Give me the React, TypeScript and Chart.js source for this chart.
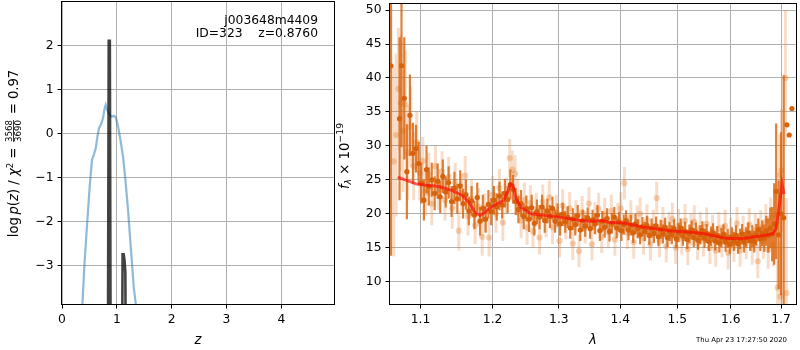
import React, { useEffect, useRef } from 'react';
import { Chart, registerables } from 'chart.js';

Chart.register(...registerables);

// ---------- Left panel data ----------
const Z_TICKS = [0, 1, 2, 3, 4];
const LOGP_TICKS = [-3, -2, -1, 0, 1, 2];

// chi2-based curve (blue)
const chiZ = [0.35, 0.372, 0.414, 0.463, 0.505, 0.547, 0.584, 0.615, 0.646, 0.675, 0.719, 0.748, 0.779, 0.797, 0.821, 0.858, 0.901, 0.949, 0.98, 1.022, 1.066, 1.113, 1.157, 1.204, 1.254, 1.308, 1.345, 1.365];
const chiLogP = [-4.4, -3.87, -2.87, -1.96, -1.2, -0.59, -0.46, -0.33, -0.06, 0.13, 0.24, 0.36, 0.59, 0.66, 0.55, 0.46, 0.39, 0.41, 0.38, 0.17, -0.14, -0.52, -1.05, -1.73, -2.57, -3.48, -3.87, -4.4];

// log p(z) (dark)
const pzZ = [0.83, 0.852, 0.872, 0.895, 1.08, 1.105, 1.125, 1.14, 1.155, 1.18];
const pzLog = [-9, 2.12, 2.12, -9, -9, -2.74, -2.74, -2.88, -3.15, -9];

// ---------- Right panel data ----------
const LAM_TICKS = [1.1, 1.2, 1.3, 1.4, 1.5, 1.6, 1.7];
const FLUX_TICKS = [10, 15, 20, 25, 30, 35, 40, 45, 50];

const modelLam = [1.070, 1.094, 1.1075, 1.125, 1.143, 1.157, 1.166, 1.175, 1.182, 1.189, 1.198, 1.207, 1.216, 1.223, 1.226, 1.230, 1.234, 1.241, 1.257, 1.300, 1.335, 1.353, 1.370, 1.380, 1.409, 1.440, 1.460, 1.490, 1.520, 1.550, 1.590, 1.620, 1.663, 1.683, 1.690, 1.697, 1.702, 1.706];
const modelFlux = [25.4, 24.4, 24.2, 24.0, 23.4, 22.7, 21.7, 20.2, 19.75, 20.2, 21.0, 21.5, 21.95, 23.4, 24.4, 24.2, 22.4, 21.0, 20.0, 19.5, 19.0, 18.9, 19.0, 18.75, 18.6, 18.0, 17.8, 17.45, 17.3, 17.05, 16.4, 16.3, 16.75, 17.05, 17.8, 21.5, 24.4, 22.9];

const darkLam = [1.0615, 1.0725, 1.0750, 1.0786, 1.0820, 1.0860, 1.0900, 1.0940, 1.0975, 1.1010, 1.1045, 1.1080, 1.1110, 1.1150, 1.1190, 1.1230, 1.1265, 1.1300, 1.1340, 1.1380, 1.1420, 1.1460, 1.1500, 1.1540, 1.1580, 1.1620, 1.1660, 1.1700, 1.1740, 1.1780, 1.1820, 1.1860, 1.1900, 1.1940, 1.1980, 1.2020, 1.2060, 1.2100, 1.2140, 1.2180, 1.2220, 1.2260, 1.2300, 1.2340, 1.2380, 1.2420, 1.2460, 1.2500, 1.2540, 1.2580, 1.2620, 1.2660, 1.2700, 1.2740, 1.2780, 1.2820, 1.2860, 1.2900, 1.2940, 1.2980, 1.3020, 1.3060, 1.3100, 1.3140, 1.3180, 1.3220, 1.3260, 1.3300, 1.3340, 1.3380, 1.3420, 1.3460, 1.3500, 1.3540, 1.3580, 1.3620, 1.3660, 1.3700, 1.3740, 1.3780, 1.3820, 1.3860, 1.3900, 1.3940, 1.3980, 1.4020, 1.4060, 1.4100, 1.4140, 1.4180, 1.4220, 1.4260, 1.4300, 1.4340, 1.4380, 1.4420, 1.4460, 1.4500, 1.4540, 1.4580, 1.4620, 1.4660, 1.4700, 1.4740, 1.4780, 1.4820, 1.4860, 1.4900, 1.4940, 1.4980, 1.5020, 1.5060, 1.5100, 1.5140, 1.5180, 1.5220, 1.5260, 1.5300, 1.5340, 1.5380, 1.5420, 1.5460, 1.5500, 1.5540, 1.5580, 1.5620, 1.5660, 1.5700, 1.5740, 1.5780, 1.5820, 1.5860, 1.5900, 1.5940, 1.5980, 1.6020, 1.6060, 1.6100, 1.6140, 1.6180, 1.6220, 1.6260, 1.6300, 1.6340, 1.6380, 1.6420, 1.6460, 1.6500, 1.6540, 1.6580, 1.6620, 1.6660, 1.6700, 1.6740, 1.6780, 1.6820, 1.6860, 1.6900, 1.6950, 1.7000, 1.7055, 1.7120, 1.7170, 1.7225];
const darkFlux = [41.8, 34.0, 41.8, 37.0, 26.2, 34.5, 28.9, 29.6, 27.4, 24.5, 22.0, 26.5, 24.0, 25.0, 23.0, 24.8, 22.5, 25.5, 23.2, 24.6, 21.8, 23.8, 22.2, 24.1, 21.5, 22.8, 20.4, 21.9, 19.8, 22.4, 18.9, 20.8, 19.2, 21.4, 20.3, 22.0, 21.0, 22.6, 21.3, 23.0, 22.1, 24.3, 23.6, 21.8, 20.6, 21.5, 19.6, 20.8, 19.2, 20.9, 18.6, 20.3, 19.5, 21.0, 19.0, 20.4, 19.6, 20.8, 18.9, 19.8, 18.5, 19.9, 18.8, 19.5, 17.9, 19.2, 18.4, 19.7, 17.6, 19.0, 18.2, 19.4, 17.8, 19.1, 18.5, 19.8, 17.5, 18.9, 18.0, 19.3, 17.4, 18.6, 19.5, 17.9, 18.8, 17.5, 18.4, 19.0, 17.6, 18.3, 17.2, 18.5, 17.8, 16.9, 18.1, 17.4, 18.3, 16.8, 17.9, 17.1, 18.2, 16.6, 17.7, 17.0, 18.0, 16.5, 17.4, 16.9, 17.8, 16.3, 17.2, 17.9, 16.7, 17.4, 16.2, 17.0, 17.6, 16.5, 17.3, 16.1, 16.9, 17.5, 16.4, 17.1, 15.9, 16.7, 17.2, 16.0, 16.8, 15.7, 16.5, 17.0, 15.8, 16.4, 15.5, 16.6, 15.9, 16.8, 15.6, 16.3, 17.0, 15.8, 16.5, 17.2, 16.0, 16.7, 15.9, 16.9, 17.6, 16.3, 17.1, 16.4, 17.5, 16.8, 17.9, 17.0, 18.5, 23.3, 16.9, 20.0, 19.4, 33.1, 31.6, 35.5];
const darkErr = [28, 12, 12, 9, 7, 6, 4.5, 3.5, 3.2, 3.0, 3.0, 3.5, 2.8, 2.5, 2.5, 2.6, 2.4, 2.5, 2.3, 2.4, 2.3, 2.4, 2.2, 2.3, 2.2, 2.2, 2.1, 2.2, 2.1, 2.2, 2.1, 2.0, 2.0, 2.1, 2.0, 2.1, 2.0, 2.1, 2.0, 2.1, 2.0, 2.2, 2.1, 2.0, 2.0, 2.0, 1.9, 1.9, 1.9, 1.9, 1.8, 1.8, 1.8, 1.8, 1.8, 1.8, 1.7, 1.7, 1.7, 1.7, 1.7, 1.7, 1.6, 1.6, 1.6, 1.6, 1.6, 1.6, 1.6, 1.6, 1.6, 1.5, 1.5, 1.5, 1.5, 1.5, 1.5, 1.5, 1.5, 1.5, 1.5, 1.5, 1.5, 1.5, 1.5, 1.5, 1.5, 1.5, 1.5, 1.5, 1.5, 1.5, 1.4, 1.4, 1.4, 1.4, 1.4, 1.4, 1.4, 1.4, 1.4, 1.4, 1.4, 1.4, 1.4, 1.4, 1.4, 1.4, 1.4, 1.4, 1.4, 1.4, 1.4, 1.4, 1.4, 1.4, 1.4, 1.4, 1.4, 1.4, 1.4, 1.4, 1.4, 1.4, 1.4, 1.4, 1.4, 1.4, 1.4, 1.4, 1.4, 1.4, 1.4, 1.4, 1.4, 1.4, 1.4, 1.5, 1.5, 1.5, 1.5, 1.5, 1.5, 1.5, 1.5, 1.6, 1.6, 1.6, 1.7, 1.8, 1.9, 2.0, 2.2, 2.5, 3.0, 4.0, 6.0, 10, 8, 12, 21];

const lightLam = [1.0650, 1.0680, 1.0710, 1.0740, 1.0770, 1.0800, 1.0830, 1.0870, 1.0910, 1.0950, 1.0990, 1.1030, 1.1070, 1.1110, 1.1150, 1.1200, 1.1240, 1.1290, 1.1330, 1.1380, 1.1430, 1.1470, 1.1520, 1.1560, 1.1610, 1.1650, 1.1700, 1.1750, 1.1800, 1.1850, 1.1890, 1.1950, 1.2000, 1.2050, 1.2100, 1.2150, 1.2200, 1.2250, 1.2290, 1.2330, 1.2370, 1.2420, 1.2470, 1.2510, 1.2560, 1.2600, 1.2650, 1.2700, 1.2750, 1.2800, 1.2850, 1.2900, 1.2960, 1.3010, 1.3060, 1.3110, 1.3170, 1.3220, 1.3270, 1.3320, 1.3370, 1.3420, 1.3480, 1.3530, 1.3580, 1.3640, 1.3690, 1.3740, 1.3800, 1.3850, 1.3910, 1.3960, 1.4010, 1.4070, 1.4120, 1.4180, 1.4230, 1.4290, 1.4340, 1.4400, 1.4460, 1.4520, 1.4570, 1.4630, 1.4680, 1.4740, 1.4800, 1.4850, 1.4910, 1.4970, 1.5020, 1.5080, 1.5140, 1.5190, 1.5250, 1.5310, 1.5370, 1.5420, 1.5480, 1.5540, 1.5600, 1.5650, 1.5710, 1.5770, 1.5830, 1.5890, 1.5950, 1.6000, 1.6060, 1.6120, 1.6180, 1.6240, 1.6300, 1.6360, 1.6420, 1.6480, 1.6530, 1.6590, 1.6640, 1.6690, 1.6740, 1.6790, 1.6840, 1.6880, 1.6930, 1.6970, 1.6985, 1.7010, 1.7090, 1.7110];
const lightFlux = [27.7, 31.6, 38.4, 36.3, 32.2, 36.1, 29.0, 32.8, 27.0, 30.5, 26.0, 27.8, 23.2, 25.8, 21.5, 27.0, 23.6, 26.2, 22.0, 25.4, 20.8, 24.6, 17.5, 23.0, 25.6, 19.6, 22.2, 18.3, 21.0, 16.6, 20.2, 16.5, 22.8, 20.0, 23.8, 18.7, 22.6, 28.2, 26.5, 25.9, 22.4, 19.0, 22.0, 18.0, 21.6, 17.4, 20.6, 16.5, 21.8, 19.0, 22.4, 18.0, 20.3, 16.0, 21.2, 18.6, 20.8, 15.6, 19.6, 14.5, 20.2, 18.0, 21.5, 15.5, 19.3, 20.7, 16.6, 19.9, 17.3, 20.4, 16.2, 19.2, 20.8, 24.5, 17.2, 19.6, 15.8, 18.8, 20.0, 16.4, 19.0, 15.5, 18.2, 22.3, 16.0, 18.6, 15.2, 17.9, 19.2, 15.0, 18.3, 16.4, 19.0, 14.8, 17.7, 18.8, 15.6, 17.9, 16.1, 18.5, 15.0, 17.4, 14.6, 17.8, 16.0, 18.2, 14.2, 17.0, 15.3, 18.6, 14.6, 17.3, 15.7, 18.4, 15.0, 17.6, 13.0, 18.0, 16.0, 18.8, 14.7, 19.4, 15.4, 19.8, 9.1, 25.7, 7.8, 26.4, 40.0, 8.3];
const lightErr = [14, 12, 9, 10, 9, 8, 7, 6, 5, 4.5, 4, 3.5, 3.5, 3.2, 3.2, 3.0, 3.0, 3.0, 3.0, 3.0, 3.0, 2.9, 2.9, 2.9, 2.9, 2.8, 2.8, 2.8, 2.8, 2.8, 2.8, 2.8, 2.8, 2.8, 2.8, 2.7, 2.7, 2.8, 2.8, 2.7, 2.7, 2.6, 2.6, 2.6, 2.6, 2.5, 2.5, 2.5, 2.5, 2.5, 2.5, 2.5, 2.5, 2.4, 2.4, 2.4, 2.4, 2.4, 2.4, 2.4, 2.4, 2.4, 2.4, 2.4, 2.4, 2.4, 2.4, 2.4, 2.4, 2.4, 2.4, 2.4, 2.4, 2.4, 2.4, 2.4, 2.4, 2.4, 2.4, 2.4, 2.4, 2.4, 2.4, 2.4, 2.4, 2.4, 2.4, 2.4, 2.4, 2.4, 2.4, 2.4, 2.4, 2.4, 2.4, 2.4, 2.4, 2.4, 2.4, 2.4, 2.4, 2.4, 2.4, 2.4, 2.4, 2.4, 2.4, 2.4, 2.4, 2.4, 2.4, 2.4, 2.4, 2.4, 2.5, 2.5, 2.5, 2.5, 2.6, 2.6, 2.8, 3.0, 3.2, 3.5, 4, 6, 8, 9, 10, 14, 12];

const TIMESTAMP = 'Thu Apr 23 17:27:50 2020';
const OBJ_NAME = 'j003648m4409';
const OBJ_INFO = 'ID=323    z=0.8760';

// ---------- helpers ----------
const FONT = 'DejaVu Sans';
const TICK_SIZE = 12.3;
const TITLE_SIZE = 13.2;

function toXY(xs: number[], ys: number[]) {
  return xs.map((x, i) => ({ x, y: ys[i] }));
}

function errorSegments(xs: number[], ys: number[], es: number[]) {
  const out: { x: number; y: number | null }[] = [];
  xs.forEach((x, i) => {
    out.push({ x, y: ys[i] - es[i] });
    out.push({ x, y: ys[i] + es[i] });
    out.push({ x, y: null });
  });
  return out;
}

function fixAxis(size: number, vertical: boolean) {
  return (scale: any) => {
    if (vertical) scale.width = size;
    else scale.height = size;
    scale.paddingTop = 0;
    scale.paddingBottom = 0;
    scale.paddingLeft = 0;
    scale.paddingRight = 0;
  };
}

function setTicks(values: number[]) {
  return (scale: any) => {
    scale.ticks = values.map((v) => ({ value: v }));
  };
}

const fmtMinus = (v: number) => (v < 0 ? '\u2212' + Math.abs(v) : String(v));

type Piece = { text?: string; frac?: [string, string]; font: string; dy?: number };

function drawRich(ctx: CanvasRenderingContext2D, pieces: Piece[], x: number, y: number, rotated: boolean) {
  ctx.save();
  ctx.translate(x, y);
  if (rotated) ctx.rotate(-Math.PI / 2);
  ctx.fillStyle = '#000';
  ctx.textBaseline = 'alphabetic';
  const widths = pieces.map((p) => {
    ctx.font = p.font;
    if (p.frac) return Math.max(ctx.measureText(p.frac[0]).width, ctx.measureText(p.frac[1]).width) + 3;
    return ctx.measureText(p.text || '').width;
  });
  const total = widths.reduce((a, b) => a + b, 0);
  let cx = -total / 2;
  pieces.forEach((p, i) => {
    ctx.font = p.font;
    if (p.frac) {
      ctx.textAlign = 'center';
      const mid = cx + widths[i] / 2;
      ctx.fillText(p.frac[0], mid, -6.3);
      ctx.fillText(p.frac[1], mid, 2.8);
      ctx.fillRect(cx + 1.5, -4.8, widths[i] - 3, 0.8);
    } else {
      ctx.textAlign = 'left';
      ctx.fillText(p.text || '', cx, p.dy || 0);
    }
    cx += widths[i];
  });
  ctx.restore();
}

const framePlugin = {
  id: 'frame',
  afterDraw(chart: any) {
    const { ctx, chartArea: a } = chart;
    ctx.save();
    ctx.strokeStyle = '#000';
    ctx.lineWidth = 1;
    ctx.strokeRect(Math.round(a.left) - 0.5, Math.round(a.top) - 0.5, Math.round(a.right - a.left) + 1, Math.round(a.bottom - a.top) + 1);
    ctx.restore();
  },
};

function gridOpts() {
  return { color: '#b0b0b0', lineWidth: 1, tickColor: '#000', tickLength: 4.5, tickWidth: 1, drawTicks: true };
}
function tickOpts(cb: (v: number) => string) {
  return { color: '#000', font: { family: FONT, size: TICK_SIZE }, padding: 4, autoSkip: false, maxRotation: 0, callback: (v: any) => cb(Number(v)) };
}

// ---------- charts ----------
function LeftPanel() {
  const ref = useRef<HTMLCanvasElement>(null);
  useEffect(() => {
    const textPlugin = {
      id: 'leftText',
      afterDraw(chart: any) {
        const ctx = chart.ctx as CanvasRenderingContext2D;
        const a = chart.chartArea;
        ctx.save();
        ctx.fillStyle = '#000';
        ctx.font = `${TICK_SIZE}px ${FONT}`;
        ctx.textAlign = 'right';
        ctx.textBaseline = 'alphabetic';
        ctx.fillText(OBJ_NAME, a.right - 16, 23.5);
        ctx.fillText(OBJ_INFO, a.right - 16, 37);
        ctx.restore();
        drawRich(ctx, [{ text: 'z', font: `italic ${TITLE_SIZE}px ${FONT}` }], (a.left + a.right) / 2, 344, false);
        const reg = `${TITLE_SIZE}px ${FONT}`;
        const it = `italic ${TITLE_SIZE}px ${FONT}`;
        const sm = `8.6px ${FONT}`;
        drawRich(
          ctx,
          [
            { text: 'log\u2009', font: reg },
            { text: 'p', font: it },
            { text: '(', font: reg },
            { text: 'z', font: it },
            { text: ') / ', font: reg },
            { text: '\u03c7', font: it },
            { text: '2', font: sm, dy: -5.5 },
            { text: ' = ', font: reg },
            { frac: ['3568', '3690'], font: sm },
            { text: ' = 0.97', font: reg },
          ],
          18,
          153.5,
          true
        );
      },
    };
    const chart = new Chart(ref.current as HTMLCanvasElement, {
      type: 'scatter',
      data: {
        datasets: [
          { type: 'line', data: toXY(pzZ, pzLog), borderColor: 'rgba(0,0,0,0.74)', borderWidth: 2.6, pointRadius: 0, tension: 0, clip: 0 } as any,
          { type: 'line', data: toXY(chiZ, chiLogP), borderColor: 'rgba(31,119,180,0.5)', borderWidth: 2.2, pointRadius: 0, tension: 0, clip: 0 } as any,
        ],
      },
      options: {
        responsive: false,
        animation: false,
        events: [],
        layout: { padding: { left: 0, right: 6, top: 2, bottom: 0 } },
        plugins: { legend: { display: false }, tooltip: { enabled: false } },
        scales: {
          x: {
            type: 'linear',
            min: 0,
            max: 4.96,
            grid: gridOpts(),
            border: { display: false },
            ticks: tickOpts((v) => fmtMinus(v)),
            afterBuildTicks: setTicks(Z_TICKS),
            afterFit: fixAxis(46, false),
          },
          y: {
            type: 'linear',
            min: -3.87,
            max: 3.0,
            grid: gridOpts(),
            border: { display: false },
            ticks: tickOpts((v) => fmtMinus(v)),
            afterBuildTicks: setTicks(LOGP_TICKS),
            afterFit: fixAxis(62, true),
          },
        },
      } as any,
      plugins: [framePlugin, textPlugin],
    });
    return () => chart.destroy();
  }, []);
  return <canvas ref={ref} width={340} height={350} style={{ position: 'absolute', left: 0, top: 0 }} />;
}

function RightPanel() {
  const ref = useRef<HTMLCanvasElement>(null);
  useEffect(() => {
    const textPlugin = {
      id: 'rightText',
      afterDraw(chart: any) {
        const ctx = chart.ctx as CanvasRenderingContext2D;
        const a = chart.chartArea;
        const reg = `${TITLE_SIZE}px ${FONT}`;
        const it = `italic ${TITLE_SIZE}px ${FONT}`;
        const sm = `9.4px ${FONT}`;
        const smi = `italic 9.4px ${FONT}`;
        drawRich(ctx, [{ text: '\u03bb', font: it }], (a.left + a.right) / 2, 344, false);
        drawRich(
          ctx,
          [
            { text: 'f', font: it },
            { text: '\u03bb', font: smi, dy: 2.8 },
            { text: ' \u00d7 10', font: reg },
            { text: '\u221219', font: sm, dy: -6 },
          ],
          23.5,
          156,
          true
        );
        ctx.save();
        ctx.fillStyle = '#000';
        ctx.font = `6.9px ${FONT}`;
        ctx.textAlign = 'right';
        ctx.textBaseline = 'alphabetic';
        ctx.fillText(TIMESTAMP, 462, 342);
        ctx.restore();
      },
    };
    const chart = new Chart(ref.current as HTMLCanvasElement, {
      type: 'scatter',
      data: {
        datasets: [
          { type: 'line', data: toXY(modelLam, modelFlux), borderColor: 'rgba(255,0,0,0.62)', borderWidth: 3, pointRadius: 0, tension: 0, clip: 0 } as any,
          { type: 'scatter', data: toXY(darkLam, darkFlux), backgroundColor: 'rgb(214,98,12)', borderWidth: 0, pointRadius: 2.6, clip: 0 } as any,
          { type: 'line', data: errorSegments(darkLam, darkFlux, darkErr), borderColor: 'rgba(217,100,12,0.82)', borderWidth: 2.2, pointRadius: 0, spanGaps: false, clip: 0 } as any,
          { type: 'scatter', data: toXY(lightLam, lightFlux), backgroundColor: 'rgba(224,120,40,0.33)', borderWidth: 0, pointRadius: 3.1, clip: 0 } as any,
          { type: 'line', data: errorSegments(lightLam, lightFlux, lightErr), borderColor: 'rgba(224,120,40,0.25)', borderWidth: 3, pointRadius: 0, spanGaps: false, clip: 0 } as any,
        ],
      },
      options: {
        responsive: false,
        animation: false,
        events: [],
        layout: { padding: { left: 0, right: 2, top: 2, bottom: 0 } },
        plugins: { legend: { display: false }, tooltip: { enabled: false } },
        scales: {
          x: {
            type: 'logarithmic',
            min: 1.0602,
            max: 1.731,
            grid: gridOpts(),
            border: { display: false },
            ticks: tickOpts((v) => v.toFixed(1)),
            afterBuildTicks: setTicks(LAM_TICKS),
            afterFit: fixAxis(46, false),
          },
          y: {
            type: 'linear',
            min: 6.7,
            max: 50.9,
            grid: gridOpts(),
            border: { display: false },
            ticks: tickOpts((v) => String(v)),
            afterBuildTicks: setTicks(FLUX_TICKS),
            afterFit: fixAxis(65, true),
          },
        },
      } as any,
      plugins: [framePlugin, textPlugin],
    });
    return () => chart.destroy();
  }, []);
  return <canvas ref={ref} width={475} height={350} style={{ position: 'absolute', left: 325, top: 0 }} />;
}

export default function App() {
  return (
    <div style={{ position: 'fixed', left: 0, top: 0, width: 800, height: 350, background: '#fff' }}>
      <LeftPanel />
      <RightPanel />
    </div>
  );
}
